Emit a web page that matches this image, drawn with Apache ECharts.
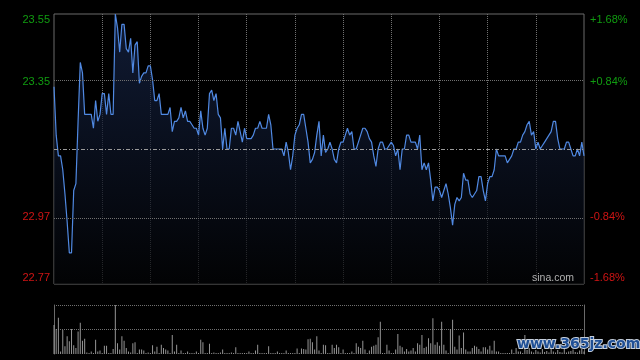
<!DOCTYPE html>
<html><head><meta charset="utf-8">
<script src="https://cdn.jsdelivr.net/npm/echarts@6/dist/echarts.min.js"></script>
<style>html,body{margin:0;padding:0;background:#000}#c{width:640px;height:360px}</style>
</head><body><div id="c"></div>
<script>
// Intraday prices (one per minute slot)
const prices = [
23.34,23.20,23.14,23.14,23.10,23.03,22.95,22.86,22.86,23.04,
23.06,23.24,23.41,23.38,23.26,23.26,23.26,23.26,23.22,23.30,
23.24,23.26,23.32,23.32,23.26,23.32,23.26,23.26,23.55,23.51,
23.44,23.52,23.52,23.45,23.44,23.48,23.38,23.46,23.47,23.35,
23.37,23.38,23.38,23.40,23.40,23.36,23.30,23.30,23.32,23.26,
23.26,23.26,23.26,23.28,23.21,23.24,23.24,23.25,23.28,23.25,
23.27,23.24,23.24,23.23,23.22,23.22,23.20,23.27,23.22,23.20,
23.22,23.32,23.33,23.30,23.32,23.26,23.25,23.16,23.22,23.16,
23.16,23.22,23.22,23.20,23.24,23.21,23.18,23.22,23.19,23.19,
23.19,23.20,23.22,23.22,23.24,23.22,23.22,23.22,23.26,23.23,
23.16,23.16,23.16,23.16,23.16,23.14,23.18,23.15,23.10,23.14,
23.20,23.22,23.23,23.26,23.26,23.22,23.18,23.12,23.13,23.15,
23.20,23.24,23.14,23.20,23.15,23.16,23.18,23.16,23.13,23.12,
23.16,23.18,23.18,23.20,23.22,23.20,23.21,23.16,23.16,23.18,
23.20,23.22,23.22,23.21,23.19,23.18,23.14,23.11,23.16,23.18,
23.18,23.16,23.16,23.17,23.18,23.17,23.14,23.16,23.10,23.16,
23.16,23.20,23.20,23.18,23.18,23.18,23.16,23.20,23.10,23.12,
23.10,23.12,23.07,23.01,23.05,23.05,23.04,23.02,23.04,23.06,
23.03,22.99,22.94,23.00,23.02,23.01,23.02,23.09,23.07,23.07,
23.03,23.02,23.03,23.04,23.08,23.08,23.04,23.01,23.06,23.08,
23.08,23.10,23.16,23.14,23.14,23.14,23.14,23.12,23.13,23.14,
23.16,23.16,23.18,23.18,23.20,23.21,23.23,23.24,23.20,23.21,
23.16,23.18,23.16,23.17,23.18,23.19,23.20,23.21,23.24,23.24,
23.19,23.16,23.16,23.16,23.18,23.18,23.16,23.14,23.14,23.16,
23.14,23.18,23.14
];
// Volume per minute slot (relative units)
const volumes = [
59,51,74,5,49,16,36,26,51,18,
12,46,64,27,31,3,2,5,2,29,
5,7,2,17,17,2,2,10,100,22,
9,36,27,12,5,3,22,24,2,9,
9,7,2,3,2,18,5,15,2,19,
12,9,7,2,39,5,19,2,7,2,
2,5,2,2,2,5,2,29,24,2,
2,21,2,3,2,2,3,9,2,2,
2,3,2,14,2,2,2,2,2,5,
2,2,7,19,2,2,2,2,16,2,
2,2,5,2,2,2,7,2,2,2,
2,11,2,11,10,9,30,31,24,9,
36,7,2,19,18,2,2,19,12,19,
14,2,9,2,2,2,5,2,22,15,
12,27,9,2,7,15,17,19,34,66,
2,2,19,7,2,2,9,41,17,14,
5,10,5,7,12,5,22,19,39,12,
15,32,22,73,19,24,17,66,19,7,
2,51,70,15,9,38,12,44,9,5,
5,12,17,15,10,5,14,14,9,17,
7,27,5,5,2,2,2,2,2,9,
2,12,5,5,2,39,8,12,5,3,
8,5,3,10,4,6,3,14,5,3,
8,4,3,12,3,5,6,9,4,3,
7,10,5
];
const priceTicks = ['22.77','22.97','','23.35','23.55'];
const pctTicks = ['-1.68%','-0.84%','','+0.84%','+1.68%'];
const prevClose = 23.16;
const priceMin = 22.77, priceMax = 23.55;
const upperGrid = 23.355, lowerGrid = 22.965;

const GREEN = '#109c10', RED = '#d01414';
function edgeLabel(arr){
  return function(v, i){
    const t = arr[i] || '';
    if (i === 0) return t + '\n';
    if (i === arr.length - 1) return '\n' + t;
    return t;
  };
}
function labelColor(v){ return parseFloat(v) > prevClose ? GREEN : RED; }

const chart = echarts.init(document.getElementById('c'), null, {renderer:'canvas'});
chart.setOption({
  backgroundColor: '#000',
  animation: false,
  grid: [
    {left:54, top:14, width:530, height:270, show:true, borderColor:'#6a6a6a', borderWidth:1, backgroundColor:'transparent'},
    {left:54, top:305, width:530, height:49}
  ],
  xAxis: [
    {type:'value', gridIndex:0, min:0, max:242, interval:22,
     axisLine:{show:false}, axisTick:{show:false}, axisLabel:{show:false},
     splitLine:{show:true, showMinLine:false, showMaxLine:false, lineStyle:{color:'#707070', type:'dotted', width:1}}},
    {type:'value', gridIndex:1, min:0, max:242,
     axisLine:{show:false}, axisTick:{show:false}, axisLabel:{show:false}, splitLine:{show:false}}
  ],
  yAxis: [
    {type:'value', gridIndex:0, position:'left', min:priceMin, max:priceMax, interval:0.195,
     axisLine:{show:false}, axisTick:{show:false}, splitLine:{show:false},
     axisLabel:{show:true, showMinLabel:true, showMaxLabel:true, margin:4, fontSize:11, lineHeight:12,
       fontFamily:'Liberation Sans, Arial, sans-serif', formatter: edgeLabel(priceTicks), color: labelColor}},
    {type:'value', gridIndex:0, position:'right', min:priceMin, max:priceMax, interval:0.195,
     axisLine:{show:false}, axisTick:{show:false}, splitLine:{show:false},
     axisLabel:{show:true, showMinLabel:true, showMaxLabel:true, margin:6, fontSize:11, lineHeight:12,
       fontFamily:'Liberation Sans, Arial, sans-serif', formatter: edgeLabel(pctTicks), color: labelColor}},
    {type:'value', gridIndex:1, position:'left', min:0, max:100, interval:50,
     axisLine:{show:true, lineStyle:{color:'#6a6a6a', width:1}}, axisTick:{show:false}, axisLabel:{show:false},
     splitLine:{show:true, showMinLine:false, lineStyle:{color:'#707070', type:'dotted', width:1}}},
    {type:'value', gridIndex:1, position:'right', min:0, max:100,
     axisLine:{show:true, lineStyle:{color:'#6a6a6a', width:1}}, axisTick:{show:false}, axisLabel:{show:false},
     splitLine:{show:false}}
  ],
  series: [
    {type:'line', xAxisIndex:0, yAxisIndex:0, data: prices.map((p,i)=>[i,p]),
     symbol:'none', smooth:false,
     lineStyle:{color:'#5089e2', width:1.2},
     areaStyle:{color:{type:'linear', x:0, y:0, x2:0, y2:1, colorStops:[
       {offset:0, color:'#17264a'}, {offset:1, color:'#030406'}]}},
     markLine:{silent:true, symbol:'none', label:{show:false}, animation:false,
       data:[
         {yAxis:upperGrid, lineStyle:{color:'#707070', type:'dotted', width:1}},
         {yAxis:lowerGrid, lineStyle:{color:'#707070', type:'dotted', width:1}},
         {yAxis:prevClose, lineStyle:{color:'#9a9a9a', type:[4,2,1,2], width:1}}
       ]}},
    {type:'bar', xAxisIndex:1, yAxisIndex:2, data: volumes.map((v,i)=>[i,v]),
     barWidth:1, itemStyle:{color:'#959595'}, silent:true}
  ],
  graphic: [
    {type:'text', left:532, top:273, z:100, style:{text:'sina.com', fill:'#b0b0b0', font:'10.5px Liberation Sans, Arial, sans-serif'}},
    {type:'text', left:516, top:336, z:100, style:{text:'www.365jz.com', fill:'#1f4f96', stroke:'#c4cedc', lineWidth:2,
      font:'bold 14px DejaVu Sans, sans-serif'}}
  ]
});
</script>
</body></html>
